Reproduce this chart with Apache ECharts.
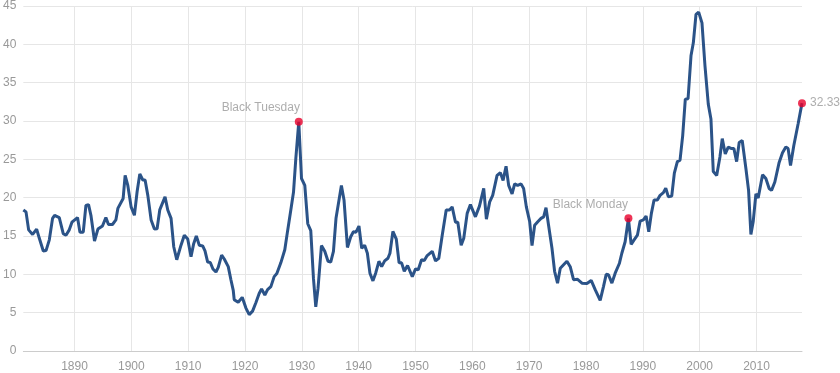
<!DOCTYPE html>
<html>
<head>
<meta charset="utf-8">
<script src="https://cdn.jsdelivr.net/npm/echarts@6/dist/echarts.min.js"></script>
<style>
html,body{margin:0;padding:0;background:#fff;}
#chart{width:840px;height:373px;}
</style>
</head>
<body>
<div id="chart"></div>
<script>
const years = [
1881.00,1881.47,1881.93,1882.63,1883.34,1883.81,1884.51,1884.99,1885.57,1886.14,1886.50,1887.32,1887.55,1888.02,1888.50,1889.08,1889.55,
1890.53,1890.96,1891.54,1892.01,1892.47,1892.89,1893.52,1894.12,1894.92,1895.52,1895.98,1896.68,1897.28,1897.63,1898.56,1898.91,1899.38,1899.96,
1900.54,1901.02,1901.49,1902.02,1902.42,1902.90,1903.48,1904.06,1904.53,1905.00,1905.93,1906.41,1906.99,1907.46,1907.99,1908.74,1909.32,1909.92,
1910.50,1910.97,1911.43,1911.96,1912.55,1912.96,1913.43,1913.89,1914.36,1914.89,1915.29,1915.89,1916.35,1917.05,1917.52,1917.93,1918.10,1918.80,1919.10,1919.51,
1920.16,1920.74,1921.33,1921.91,1922.49,1922.91,1923.49,1923.97,1924.55,1925.13,1925.60,1926.30,1927.00,1927.48,1928.06,1928.53,1928.94,1929.46,1929.94,
1930.52,1931.04,1931.57,1932.04,1932.45,1932.85,1933.45,1934.03,1934.61,1935.08,1935.56,1936.01,1936.54,1936.96,1937.42,1938.02,1938.60,1939.07,1939.53,
1940.05,1940.53,1941.05,1941.53,1941.98,1942.51,1942.99,1943.56,1944.04,1944.57,1945.15,1945.50,1946.02,1946.62,1947.11,1947.55,1948.02,1948.60,1949.43,
1950.01,1950.48,1951.06,1951.54,1952.06,1952.94,1953.52,1954.10,1954.70,1955.40,1955.98,1956.45,1957.03,1957.44,1958.03,1958.49,1959.09,1959.66,
1960.54,1961.25,1962.00,1962.47,1963.05,1963.58,1964.35,1964.93,1965.41,1965.93,1966.39,1966.99,1967.44,1967.97,1968.57,1969.02,1969.50,
1970.08,1970.50,1970.96,1971.55,1972.08,1972.54,1972.96,1973.41,1974.01,1974.47,1974.99,1975.47,1976.05,1976.64,1977.22,1977.80,1978.51,1979.28,
1980.16,1980.91,1981.61,1982.49,1983.07,1983.55,1983.95,1984.55,1985.13,1985.88,1986.30,1986.88,1987.46,1987.94,1988.46,1989.04,1989.52,
1990.09,1990.57,1991.04,1991.50,1991.97,1992.55,1993.03,1993.61,1994.03,1994.49,1995.08,1995.54,1996.07,1996.54,1997.01,1997.47,1997.95,1998.47,1998.88,1999.35,1999.82,
2000.40,2000.93,2001.51,2001.98,2002.39,2002.99,2003.56,2003.97,2004.50,2005.02,2005.62,2006.02,2006.50,2006.95,2007.48,2008.13,2008.60,2009.01,2009.41,2009.89,
2010.29,2011.06,2011.64,2012.22,2012.64,2013.22,2013.98,2014.57,2015.15,2015.56,2015.98,2016.56,2017.31,2018.00
];
const peValues = [
18.4,18.15,15.8,15.2,15.9,14.7,13.05,13.1,14.5,17.3,17.7,17.4,17.2,15.3,15.1,15.8,16.8,
17.4,15.5,15.5,19.0,19.1,17.7,14.35,15.9,16.3,17.4,16.5,16.5,17.1,18.6,19.9,22.9,21.6,18.8,
17.7,20.8,23.1,22.3,22.3,20.3,17.1,15.9,15.95,18.4,20.1,18.4,17.3,13.6,11.9,13.8,15.1,14.6,
12.3,14.0,15.0,13.8,13.7,13.05,11.6,11.55,10.7,10.3,10.9,12.5,12.0,11.0,9.3,7.9,6.7,6.35,6.3,7.0,
5.6,4.75,5.2,6.3,7.5,8.1,7.3,8.0,8.4,9.7,10.1,11.5,13.2,15.6,18.4,20.7,25.1,29.9,22.5,
21.6,16.6,15.7,9.5,5.75,8.2,13.75,13.0,11.7,11.6,13.0,17.3,19.7,21.6,19.7,13.5,14.9,15.55,15.5,
16.3,13.4,13.8,12.75,10.15,9.15,10.15,11.7,11.0,11.75,12.1,12.75,15.6,14.6,11.5,11.5,10.4,11.15,9.7,
10.7,10.6,11.9,11.8,12.45,13.0,11.75,12.1,15.1,18.4,18.4,18.8,16.8,16.8,13.8,14.7,17.95,19.1,
17.5,18.9,21.2,17.2,19.45,20.3,22.9,23.25,22.25,24.1,21.6,20.5,21.8,21.6,21.8,21.2,18.8,
16.9,13.75,16.4,16.9,17.3,17.5,18.7,16.4,13.4,10.4,8.85,10.8,11.25,11.7,11.0,9.3,9.35,8.85,
8.8,9.2,8.0,6.6,8.4,10.0,9.95,8.85,10.15,11.45,12.75,14.25,17.3,13.9,14.5,15.1,16.95,
17.1,17.6,15.55,17.95,19.7,19.7,20.3,20.65,21.25,20.1,20.2,23.2,24.7,24.9,28.1,32.85,32.9,38.5,40.2,43.9,44.2,
42.8,37.2,32.2,30.25,23.4,22.9,25.3,27.7,25.7,26.6,26.4,26.4,24.7,27.2,27.45,23.8,20.95,15.2,16.85,20.5,
19.95,23.0,22.5,21.2,20.95,22.05,24.6,25.85,26.6,26.4,24.2,26.8,29.6,32.33
];
const tickYears = [1890,1900,1910,1920,1930,1940,1950,1960,1970,1980,1990,2000,2010];
const eventNames = ['Black Tuesday','Black Monday'];
const eventYears = [1929.46,1987.46];
const eventValues = [29.9,17.3];
const lastYear = 2018.00;
const lastValue = 32.33;

const FONT = '"Liberation Sans", Arial, sans-serif';
const chart = echarts.init(document.getElementById('chart'), null, {renderer:'canvas'});
const lineData = years.map((y,i)=>[y, peValues[i]]);
const eventData = eventNames.map((n,i)=>({name:n, value:[eventYears[i], eventValues[i]]}));

chart.setOption({
  animation:false,
  backgroundColor:'#ffffff',
  grid:{left:22,right:38,top:6,bottom:20,containLabel:false},
  xAxis:{
    type:'value',min:1881,max:2018,
    axisLine:{show:true,lineStyle:{color:'#cccccc',width:1}},
    axisTick:{show:false,customValues:tickYears},
    axisLabel:{customValues:tickYears,color:'#999999',fontSize:12,fontFamily:FONT,margin:10,formatter:v=>String(v)},
    splitLine:{show:true,lineStyle:{color:'#e6e6e6',width:1}}
  },
  yAxis:{
    type:'value',min:0,max:45,interval:5,
    axisLine:{show:false},axisTick:{show:false},
    axisLabel:{color:'#999999',fontSize:12,fontFamily:FONT,margin:7},
    splitLine:{show:true,lineStyle:{color:'#e6e6e6',width:1}}
  },
  series:[
    {
      type:'line',data:lineData,showSymbol:false,smooth:false,
      lineStyle:{color:'#2b5388',width:3},
      z:2
    },
    {
      type:'scatter',data:eventData,symbol:'circle',symbolSize:8,
      itemStyle:{color:'#e8002a'},
      label:{show:true,position:'top',distance:5,offset:[-38,1],formatter:p=>p.name,
        color:'#999999',fontSize:12,fontFamily:FONT},
      z:3
    },
    {
      type:'scatter',data:[[lastYear,lastValue]],symbol:'circle',symbolSize:8,
      itemStyle:{color:'#e8002a'},
      label:{show:true,position:'right',distance:4,formatter:p=>String(p.value[1]),
        color:'#999999',fontSize:12,fontFamily:FONT},
      z:3
    }
  ]
});
</script>
</body>
</html>
